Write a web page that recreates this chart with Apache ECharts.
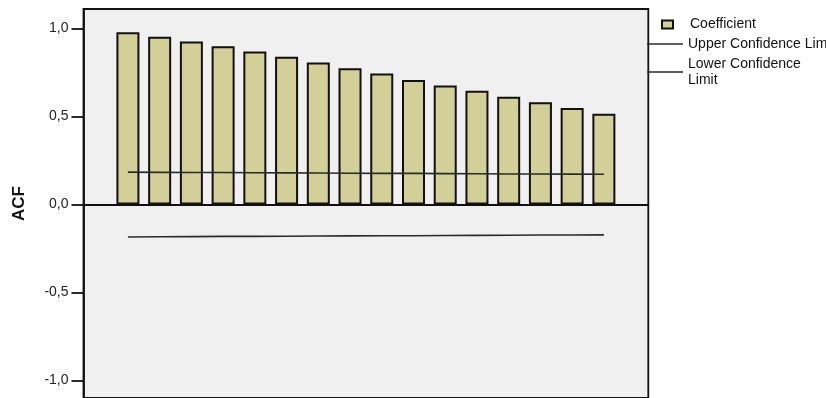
<!DOCTYPE html>
<html>
<head>
<meta charset="utf-8">
<script src="https://cdn.jsdelivr.net/npm/echarts@6/dist/echarts.min.js"></script>
<style>
    html, body { margin: 0; padding: 0; background: #fff; }
    #box { width: 826px; height: 398px; }
</style>
</head>
<body>
<div id="box"></div>
<script>
var lags = [1, 2, 3, 4, 5, 6, 7, 8, 9, 10, 11, 12, 13, 14, 15, 16];
var coefficient = [0.978, 0.953, 0.925, 0.898, 0.869, 0.839, 0.806, 0.774, 0.743, 0.707, 0.675, 0.645, 0.612, 0.580, 0.547, 0.515];
var upperLimit = [0.183, 0.182, 0.181, 0.181, 0.180, 0.179, 0.178, 0.177, 0.176, 0.176, 0.175, 0.174, 0.173, 0.173, 0.172, 0.171];
var lowerLimit = [-0.185, -0.184, -0.183, -0.182, -0.182, -0.181, -0.180, -0.179, -0.178, -0.178, -0.177, -0.176, -0.175, -0.174, -0.174, -0.173];
var yTicks = [-1, -0.5, 0, 0.5, 1];

var font = "Arial, 'Liberation Sans', sans-serif";

function pairs(vals) {
    var list = [];
    for (let i = 0; i < lags.length; i++) {
        list.push([lags[i], vals[i]]);
    }
    return list;
}

var myChart = echarts.init(document.getElementById("box"));

var option = {
    backgroundColor: '#fff',
    animation: false,
    grid: {
        left: 83.5,
        right: 177.7,
        top: 9,
        bottom: 0,
        show: true,
        backgroundColor: '#f0f0f0',
        borderColor: '#111',
        borderWidth: 1.8
    },
    legend: [{
        data: ['Coefficient'],
        left: 661,
        top: 17.5,
        padding: 0,
        selectedMode: false,
        icon: 'rect',
        itemWidth: 11,
        itemHeight: 8,
        textStyle: { fontFamily: font, fontSize: 14, color: '#111', padding: [0, 0, 0, 12] }
    }, {
        data: ['Upper Confidence Limit'],
        left: 647,
        top: 37,
        padding: 0,
        selectedMode: false,
        icon: 'rect',
        itemWidth: 36,
        itemHeight: 1.5,
        textStyle: { fontFamily: font, fontSize: 14, color: '#111' }
    }, {
        data: ['Lower Confidence Limit'],
        left: 647,
        top: 56,
        padding: 0,
        selectedMode: false,
        icon: 'rect',
        itemWidth: 36,
        itemHeight: 1.5,
        formatter: function (name) {
            return 'Lower Confidence\nLimit';
        },
        textStyle: { fontFamily: font, fontSize: 14, color: '#111', lineHeight: 16 }
    }],
    xAxis: {
        type: 'value',
        min: -0.4,
        max: 17.4,
        axisLine: { onZero: true, lineStyle: { color: '#111', width: 1.8 } },
        axisTick: { show: false },
        axisLabel: { show: false },
        splitLine: { show: false }
    },
    yAxis: {
        type: 'value',
        min: -1.1,
        max: 1.11,
        name: 'ACF',
        nameLocation: 'middle',
        nameGap: 56,
        nameTextStyle: { fontFamily: font, fontSize: 17, fontWeight: 'bold', color: '#111' },
        axisLine: { show: true, onZero: false, lineStyle: { color: '#111', width: 1.8 } },
        axisTick: { show: true, length: 12, customValues: yTicks, lineStyle: { color: '#111', width: 1.8 } },
        axisLabel: {
            customValues: yTicks,
            margin: 15,
            fontFamily: font,
            fontSize: 14,
            color: '#222',
            formatter: function (v) {
                return v.toFixed(1).replace('.', ',');
            }
        },
        splitLine: { show: false }
    },
    series: [{
        name: 'Coefficient',
        type: 'bar',
        barWidth: 23,
        itemStyle: {
            color: '#d3cf98',
            borderColor: '#111',
            borderWidth: 2
        },
        data: pairs(coefficient)
    }, {
        name: 'Upper Confidence Limit',
        type: 'line',
        showSymbol: false,
        color: '#2a2a2a',
        lineStyle: { color: '#2a2a2a', width: 1.6 },
        data: pairs(upperLimit)
    }, {
        name: 'Lower Confidence Limit',
        type: 'line',
        showSymbol: false,
        color: '#2a2a2a',
        lineStyle: { color: '#2a2a2a', width: 1.6 },
        data: pairs(lowerLimit)
    }]
};

myChart.setOption(option);
</script>
</body>
</html>
